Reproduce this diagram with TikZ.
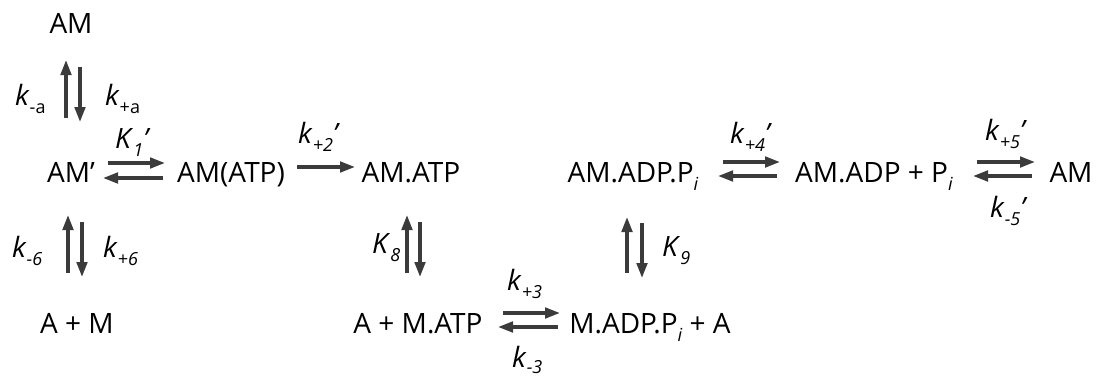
\documentclass[tikz,border=0pt]{standalone}
\usepackage{fontspec}
\setmainfont{Open Sans}
\usetikzlibrary{arrows.meta,calc}
\definecolor{arrowgray}{HTML}{3B3B3B}
\newcommand\lsub[1]{\raisebox{-8pt}{\fontsize{18}{18}\selectfont #1}}
\newcommand\lsubb[1]{\raisebox{-6pt}{\fontsize{18}{18}\selectfont #1}}
\newcommand\prm{\textit{’}}
\begin{document}
\begin{tikzpicture}[x=1pt,y=-1pt,
 sp/.style={font=\fontsize{28}{30}\selectfont, text=black, inner sep=0pt, anchor=base},
 lab/.style={font=\fontsize{28}{30}\selectfont, text=black, inner sep=0pt, anchor=base west},
 rx/.style={draw=arrowgray, line width=3.3pt, -{Triangle[length=15pt,width=10.5pt]}}]
\useasboundingbox (0,0) rectangle (1099,380);
% species
\node[sp] (AMtop) at (71,33) {AM};
\node[sp] (AMp) at (71,182) {AM’};
\node[sp] (AMATP1) at (231,182) {AM(ATP)};
\node[sp] (AMATP) at (411,182) {AM.ATP};
\node[sp] (AMADPPi) at (633,182) {AM.ADP.P\lsub{\textit{i}}};
\node[sp] (AMADP) at (874,182) {AM.ADP + P\lsub{\textit{i}}};
\node[sp] (AMend) at (1071,182) {AM};
\node[sp] (AplusM) at (77,333) {A + M};
\node[sp] (AplusMATP) at (418,333) {A + M.ATP};
\node[sp] (MADP) at (650,333) {M.ADP.P\lsub{\textit{i}} + A};
% rate labels
\node[lab] (ka1) at (15,105) {\textit{k}\lsub{-a}};
\node[lab] (ka2) at (105,105) {\textit{k}\lsub{+a}};
\node[lab] (K1) at (115,148) {\textit{K}\lsub{\textit{1}}\prm};
\node[lab] (k2) at (298,143) {\textit{k}\lsub{\textit{+2}}\prm};
\node[lab] (k6m) at (12,257) {\textit{k}\lsub{\textit{-6}}};
\node[lab] (k6p) at (103,257) {\textit{k}\lsub{\textit{+6}}};
\node[lab] (K8) at (372,253) {\textit{K}\lsub{\textit{8}}};
\node[lab] (K9) at (662,256) {\textit{K}\lsub{\textit{9}}};
\node[lab] (k3p) at (507,290) {\textit{k}\lsub{\textit{+3}}};
\node[lab] (k3m) at (512,367) {\textit{k}\lsubb{\textit{-3}}};
\node[lab] (k4) at (730,143) {\textit{k}\lsub{\textit{+4}}\prm};
\node[lab] (k5p) at (985,140) {\textit{k}\lsub{\textit{+5}}\prm};
\node[lab] (k5m) at (990,217) {\textit{k}\lsub{\textit{-5}}\prm};
% arrows
\draw[rx] ($(AMp.base)+(-5,-64)$) -- ($(AMtop.base)+(-5,27)$);
\draw[rx] ($(AMtop.base)+(9,34)$) -- ($(AMp.base)+(9,-60)$);
\draw[rx] ($(AMp.base)+(37,-19)$) -- ($(AMATP1.base)+(-66,-19)$);
\draw[rx] ($(AMATP1.base)+(-68,-4)$) -- ($(AMp.base)+(32,-4)$);
\draw[rx] ($(AMATP1.base)+(66,-15)$) -- ($(AMATP.base)+(-56,-15)$);
\draw[rx] ($(AplusM.base)+(-9,-60)$) -- ($(AMp.base)+(-3,33)$);
\draw[rx] ($(AMp.base)+(11,40)$) -- ($(AplusM.base)+(5,-56)$);
\draw[rx] ($(AplusMATP.base)+(-11,-60)$) -- ($(AMATP.base)+(-4,33)$);
\draw[rx] ($(AMATP.base)+(9,40)$) -- ($(AplusMATP.base)+(2,-56)$);
\draw[rx] ($(AplusMATP.base)+(85,-20)$) -- ($(MADP.base)+(-90,-20)$);
\draw[rx] ($(MADP.base)+(-92,-6)$) -- ($(AplusMATP.base)+(80,-6)$);
\draw[rx] ($(MADP.base)+(-23,-60)$) -- ($(AMADPPi.base)+(-6,35)$);
\draw[rx] ($(AMADPPi.base)+(9,41)$) -- ($(MADP.base)+(-8,-55)$);
\draw[rx] ($(AMADPPi.base)+(90,-20)$) -- ($(AMADP.base)+(-94,-20)$);
\draw[rx] ($(AMADP.base)+(-97,-6)$) -- ($(AMADPPi.base)+(85,-6)$);
\draw[rx] ($(AMADP.base)+(103,-20)$) -- ($(AMend.base)+(-36,-20)$);
\draw[rx] ($(AMend.base)+(-39,-6)$) -- ($(AMADP.base)+(99,-6)$);
\end{tikzpicture}
\end{document}
